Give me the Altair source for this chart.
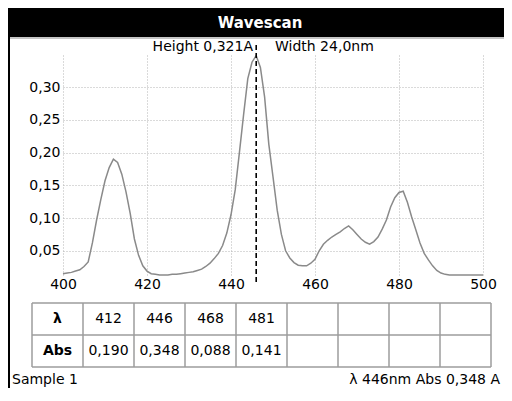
import altair as alt
import pandas as pd

# ---------------- data ----------------
wavelength = list(range(400, 501))
absorbance = [
    0.015, 0.016, 0.017, 0.019, 0.021, 0.026, 0.033, 0.062, 0.097, 0.128,   # 400-409
    0.157, 0.177, 0.190, 0.185, 0.167, 0.140, 0.107, 0.068, 0.043, 0.027,   # 410-419
    0.019, 0.015, 0.014, 0.013, 0.013, 0.013, 0.014, 0.014, 0.015, 0.016,   # 420-429
    0.017, 0.018, 0.020, 0.022, 0.026, 0.031, 0.038, 0.046, 0.058, 0.077,   # 430-439
    0.105, 0.143, 0.200, 0.258, 0.313, 0.338, 0.348, 0.330, 0.285, 0.213,   # 440-449
    0.163, 0.112, 0.075, 0.050, 0.039, 0.032, 0.028, 0.027, 0.027, 0.031,   # 450-459
    0.037, 0.050, 0.060, 0.066, 0.071, 0.075, 0.079, 0.084, 0.088, 0.082,   # 460-469
    0.075, 0.068, 0.063, 0.060, 0.064, 0.071, 0.083, 0.097, 0.117, 0.131,   # 470-479
    0.139, 0.141, 0.124, 0.102, 0.082, 0.062, 0.046, 0.036, 0.027, 0.020,   # 480-489
    0.016, 0.014, 0.013, 0.013, 0.013, 0.013, 0.013, 0.013, 0.013, 0.013,   # 490-499
    0.013,                                                                   # 500
]
peak_nm = [412, 446, 468, 481]
peak_abs = [0.190, 0.348, 0.088, 0.141]
x_ticks = [400, 420, 440, 460, 480, 500]
y_ticks = [0.05, 0.10, 0.15, 0.20, 0.25, 0.30]
title_text = "Wavescan"
height_a = 0.321
width_nm = 24.0
sample_label = "Sample  1"
cursor_nm = 446
cursor_abs = 0.348
table_slots = 8
row_headers = ["λ", "Abs"]


def comma(v, d):
    return f"{v:.{d}f}".replace(".", ",")


FONT = "DejaVu Sans"
FS = 14
one = pd.DataFrame({"k": [0]})

# ---------------- plot layers ----------------
spectrum = pd.DataFrame({"nm": wavelength, "abs": absorbance})
x_scale = alt.Scale(domain=[400, 500], nice=False, zero=False)
y_scale = alt.Scale(domain=[0.013, 0.349], nice=False, zero=False)

line = alt.Chart(spectrum).mark_line(color="#8a8a8a", strokeWidth=1.5).encode(
    x=alt.X("nm:Q", scale=x_scale, axis=alt.Axis(
        values=x_ticks, title=None, ticks=False, domain=False, grid=True,
        gridDash=[1, 2], gridColor="#b4b4b4", gridWidth=1, labelPadding=2,
        labelFont=FONT, labelFontSize=FS, labelColor="black", labelFlush=False)),
    y=alt.Y("abs:Q", scale=y_scale, axis=alt.Axis(
        values=y_ticks, title=None, ticks=False, domain=False, grid=True,
        gridDash=[1, 2], gridColor="#b4b4b4", gridWidth=1, labelPadding=3,
        labelFont=FONT, labelFontSize=FS, labelColor="black", labelFlush=False,
        labelExpr="replace(format(datum.value, '.2f'), '.', ',')")),
)

cursor = alt.Chart(pd.DataFrame({"nm": [cursor_nm]})).mark_rule(
    color="black", strokeDash=[5, 3], strokeWidth=1.6
).encode(x=alt.X("nm:Q", scale=x_scale), y=alt.value(-10), y2=alt.value(230))

title_bar = alt.Chart(one).mark_rect(color="black").encode(
    x=alt.value(-55), x2=alt.value(441), y=alt.value(-47), y2=alt.value(-18))
title_rule = alt.Chart(one).mark_rule(color="#8c8c8c", strokeWidth=1).encode(
    x=alt.value(-55), x2=alt.value(441), y=alt.value(-17))
left_border = alt.Chart(one).mark_rule(color="black", strokeWidth=2).encode(
    x=alt.value(-54), y=alt.value(-47), y2=alt.value(333))
title = alt.Chart(one).mark_text(
    text=title_text, color="white", fontWeight="bold", fontSize=15, font=FONT,
    align="center", baseline="middle").encode(x=alt.value(197), y=alt.value(-32))
height_txt = alt.Chart(one).mark_text(
    text=f"Height {comma(height_a, 3)}A", fontSize=FS, font=FONT, color="black",
    align="right", baseline="middle").encode(x=alt.value(190), y=alt.value(-8))
width_txt = alt.Chart(one).mark_text(
    text=f"Width {comma(width_nm, 1)}nm", fontSize=FS, font=FONT, color="black",
    align="left", baseline="middle").encode(x=alt.value(212), y=alt.value(-8))
sample_txt = alt.Chart(one).mark_text(
    text=sample_label, fontSize=FS, font=FONT, color="black",
    align="left", baseline="middle").encode(x=alt.value(-51), y=alt.value(325))
cursor_txt = alt.Chart(one).mark_text(
    text=f"λ {cursor_nm}nm Abs {comma(cursor_abs, 3)} A", fontSize=FS, font=FONT,
    color="black", align="right", baseline="middle").encode(x=alt.value(437), y=alt.value(325))

plot = alt.layer(line, cursor, title_bar, title_rule, left_border, title,
                 height_txt, width_txt, sample_txt, cursor_txt)

# ---------------- table layers ----------------
n_cols = table_slots + 1
col_scale = alt.Scale(domain=[0, n_cols], range=[-31, 428], nice=False, zero=False)
row_scale = alt.Scale(domain=[0, 2], range=[248, 312], nice=False, zero=False)

h_lines = pd.DataFrame({"r": [0, 1, 2], "c0": [0] * 3, "c1": [n_cols] * 3})
v_lines = pd.DataFrame({"c": list(range(n_cols + 1)), "r0": [0] * (n_cols + 1),
                        "r1": [2] * (n_cols + 1)})
grid_color = "#9c9c9c"
hl = alt.Chart(h_lines).mark_rule(color=grid_color, strokeWidth=1.5).encode(
    y=alt.Y("r:Q", scale=row_scale, axis=None),
    x=alt.X("c0:Q", scale=col_scale, axis=None), x2="c1:Q")
vl = alt.Chart(v_lines).mark_rule(color=grid_color, strokeWidth=1.5).encode(
    x=alt.X("c:Q", scale=col_scale, axis=None),
    y=alt.Y("r0:Q", scale=row_scale, axis=None), y2="r1:Q")

head = pd.DataFrame({"c": [0.5, 0.5], "r": [0.5, 1.5], "t": row_headers})
cells = pd.DataFrame({
    "c": [i + 1.5 for i in range(len(peak_nm))] * 2,
    "r": [0.5] * len(peak_nm) + [1.5] * len(peak_nm),
    "t": [str(v) for v in peak_nm] + [comma(v, 3) for v in peak_abs],
})
head_txt = alt.Chart(head).mark_text(
    fontWeight="bold", fontSize=FS, font=FONT, color="black", baseline="middle").encode(
    x=alt.X("c:Q", scale=col_scale, axis=None),
    y=alt.Y("r:Q", scale=row_scale, axis=None), text="t:N")
cell_txt = alt.Chart(cells).mark_text(
    fontSize=FS, font=FONT, color="black", baseline="middle").encode(
    x=alt.X("c:Q", scale=col_scale, axis=None),
    y=alt.Y("r:Q", scale=row_scale, axis=None), text="t:N")

table = alt.layer(hl, vl, head_txt, cell_txt)

chart = alt.layer(plot, table).resolve_scale(
    x="independent", y="independent"
).properties(
    width=420, height=220,
    autosize=alt.AutoSizeParams(type="none"),
    padding={"left": 55, "top": 47, "right": 21, "bottom": 113},
    background="white",
).configure_view(stroke=None)

chart.save("out.html", embed_options={"renderer": "svg", "actions": False})
